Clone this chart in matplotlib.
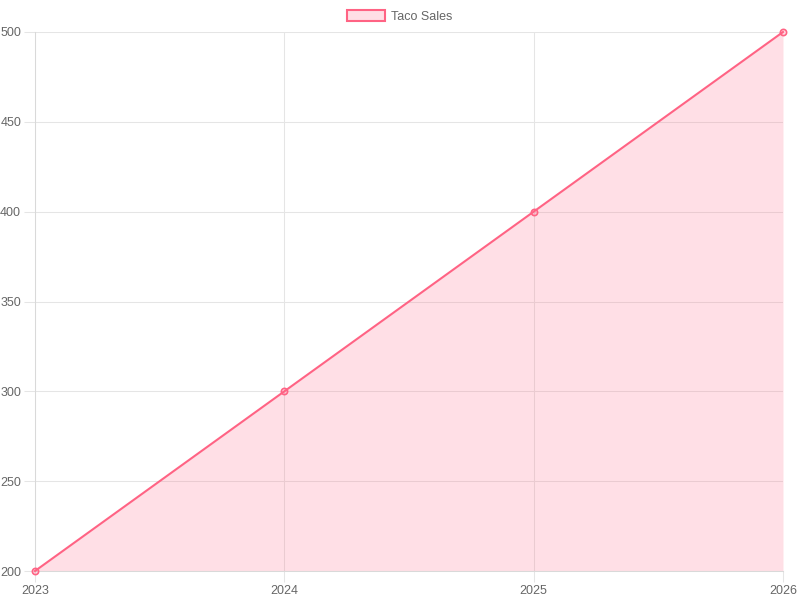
import matplotlib
matplotlib.use('Agg')
import matplotlib.pyplot as plt
from matplotlib.patches import Patch

years = ['2023', '2024', '2025', '2026']
sales = [200, 300, 400, 500]

line_col = (1.0, 99 / 255, 132 / 255)
fill_col = (1.0, 99 / 255, 132 / 255, 0.2)
grid_col = '#e5e5e5'
text_col = '#666666'

plt.rcParams['font.family'] = ['Liberation Sans', 'DejaVu Sans']

fig = plt.figure(figsize=(8, 6), dpi=100)
ax = fig.add_axes([35 / 800, 29 / 600, 748 / 800, 539 / 600])

x = list(range(len(years)))
ax.fill_between(x, sales, 200, color=fill_col, linewidth=0)
ax.plot(x, sales, color=line_col, linewidth=1.5, marker='o', markersize=4.5,
        markerfacecolor=fill_col, markeredgecolor=line_col, markeredgewidth=1.2,
        clip_on=False, zorder=3)

ax.set_xlim(0, len(years) - 1)
ax.set_ylim(200, 500)
ax.set_xticks(x)
ax.set_xticklabels(years)
ax.set_yticks(range(200, 501, 50))

ax.tick_params(color=grid_col, length=8, width=0.75, labelcolor=text_col,
               labelsize=9, pad=2)
ax.grid(True, color=grid_col, linewidth=0.75)
ax.set_axisbelow(True)
for s in ax.spines.values():
    s.set_visible(False)
ax.spines['left'].set_visible(True)
ax.spines['bottom'].set_visible(True)
ax.spines['left'].set_color('#d9d9d9')
ax.spines['bottom'].set_color('#d9d9d9')
ax.spines['left'].set_linewidth(0.75)
ax.spines['bottom'].set_linewidth(0.75)

leg = fig.legend(handles=[Patch(facecolor=fill_col, edgecolor=line_col,
                                linewidth=1.5, label='Taco Sales')],
                 loc='center', bbox_to_anchor=(0.5, 1 - 16.5 / 600),
                 frameon=False, fontsize=9, handlelength=3.0, handleheight=0.9,
                 handletextpad=0.5, labelcolor=text_col)

fig.savefig('out.png', dpi=100)
